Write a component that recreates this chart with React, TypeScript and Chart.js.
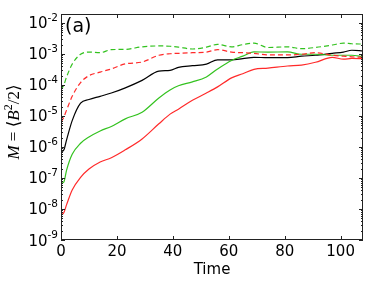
import React, { useEffect, useRef } from 'react';
import { Chart, registerables } from 'chart.js';

Chart.register(...registerables);

const times = [0, 1, 2, 4, 7, 10, 14, 18, 23, 29, 35, 39, 42, 47, 52, 56, 61, 65, 69, 74, 81, 86, 91, 97, 101, 104, 108];

const blackSolid = [7.0e-7, 8.0e-7, 1.7e-6, 7.1e-6, 2.6e-5, 3.4e-5, 4.3e-5, 5.5e-5, 8.1e-5, 1.41e-4, 2.8e-4, 2.95e-4, 3.7e-4, 4.2e-4, 4.7e-4, 6.5e-4, 6.5e-4, 7.1e-4, 7.8e-4, 7.6e-4, 7.6e-4, 8.5e-4, 9.1e-4, 1.05e-3, 1.15e-3, 1.32e-3, 1.26e-3];
const greenSolid = [6.9e-8, 7.4e-8, 1.8e-7, 5.8e-7, 1.32e-6, 2.1e-6, 3.3e-6, 4.6e-6, 8.1e-6, 1.32e-5, 3.8e-5, 6.9e-5, 9.5e-5, 1.26e-4, 1.82e-4, 3.3e-4, 6.2e-4, 8.5e-4, 1.17e-3, 1.15e-3, 1.17e-3, 9.8e-4, 9.8e-4, 9.1e-4, 9.1e-4, 9.1e-4, 8.1e-4];
const redSolid = [6.5e-9, 7.6e-9, 1.38e-8, 4.1e-8, 1.05e-7, 1.95e-7, 3.3e-7, 4.5e-7, 8.1e-7, 1.82e-6, 5.6e-6, 1.15e-5, 1.66e-5, 3.2e-5, 5.5e-5, 8.7e-5, 1.7e-4, 2.3e-4, 3.2e-4, 3.5e-4, 4.1e-4, 4.4e-4, 5.4e-4, 7.8e-4, 6.8e-4, 7.2e-4, 7.1e-4];
const greenDashed = [6.9e-5, 1.0e-4, 1.82e-4, 4.7e-4, 9.8e-4, 1.15e-3, 1.1e-3, 1.38e-3, 1.41e-3, 1.7e-3, 1.82e-3, 1.78e-3, 1.66e-3, 1.45e-3, 1.66e-3, 2.04e-3, 1.7e-3, 2.0e-3, 2.24e-3, 1.62e-3, 1.7e-3, 1.48e-3, 1.62e-3, 1.95e-3, 2.24e-3, 2.14e-3, 2.09e-3];
const redDashed = [6.5e-6, 9.1e-6, 1.55e-5, 4.3e-5, 1.2e-4, 2.0e-4, 2.6e-4, 3.3e-4, 4.8e-4, 5.5e-4, 9.1e-4, 1.02e-3, 1.05e-3, 1.1e-3, 1.15e-3, 1.38e-3, 1.15e-3, 1.1e-3, 1.05e-3, 9.3e-4, 9.3e-4, 9.8e-4, 1.1e-3, 9.1e-4, 8.5e-4, 8.1e-4, 7.8e-4];

const xTicks = [0, 20, 40, 60, 80, 100];
const yExponents = [-9, -8, -7, -6, -5, -4, -3, -2];
const xMin = 0;
const xMax = 108;
const yMin = 1e-9;
const yMax = 1.95e-2;
const xLabel = 'Time';
const panelLabel = '(a)';

const RED = '#ff2a2a';
const GREEN = '#33c21f';
const BLACK = '#000000';

const axesPlugin = {
  id: 'mplAxes',
  afterDraw(chart: any) {
    const ctx = chart.ctx as CanvasRenderingContext2D;
    const { left, right, top, bottom } = chart.chartArea;
    const xs = chart.scales.x;
    const ys = chart.scales.y;
    ctx.save();
    ctx.strokeStyle = '#222';
    ctx.lineWidth = 1;
    ctx.strokeRect(Math.round(left) + 0.5, Math.round(top) + 0.5, Math.round(right - left) - 1, Math.round(bottom - top) - 1);

    ctx.beginPath();
    for (const v of xTicks) {
      const px = Math.round(xs.getPixelForValue(v)) + 0.5;
      ctx.moveTo(px, bottom);
      ctx.lineTo(px, bottom - 4);
      ctx.moveTo(px, top);
      ctx.lineTo(px, top + 4);
    }
    for (const e of yExponents) {
      const py = Math.round(ys.getPixelForValue(Math.pow(10, e))) + 0.5;
      ctx.moveTo(left, py);
      ctx.lineTo(left + 4, py);
      ctx.moveTo(right, py);
      ctx.lineTo(right - 4, py);
      for (let m = 2; m <= 9; m++) {
        const val = m * Math.pow(10, e);
        if (val > yMax) continue;
        const pm = Math.round(ys.getPixelForValue(val)) + 0.5;
        ctx.moveTo(left, pm);
        ctx.lineTo(left + 2, pm);
        ctx.moveTo(right, pm);
        ctx.lineTo(right - 2, pm);
      }
    }
    ctx.stroke();

    ctx.fillStyle = '#000';
    ctx.textBaseline = 'alphabetic';
    // x tick labels
    ctx.font = '15px "DejaVu Sans"';
    ctx.textAlign = 'center';
    for (const v of xTicks) {
      ctx.fillText(String(v), xs.getPixelForValue(v), bottom + 16);
    }
    // y tick labels
    for (const e of yExponents) {
      const py = ys.getPixelForValue(Math.pow(10, e));
      const ex = '-' + String(Math.abs(e));
      ctx.font = '10.5px "DejaVu Sans"';
      const ew = ctx.measureText(ex).width;
      ctx.textAlign = 'left';
      const exX = left - 3 - ew;
      ctx.fillText(ex, exX, py - 2);
      ctx.font = '15px "DejaVu Sans"';
      ctx.textAlign = 'right';
      ctx.fillText('10', exX, py + 5.5);
    }
    // x axis title
    ctx.textAlign = 'center';
    ctx.font = '15px "DejaVu Sans"';
    ctx.fillText(xLabel, (left + right) / 2, 274);
    // panel label
    ctx.textAlign = 'left';
    ctx.font = '19px "DejaVu Sans"';
    ctx.fillText(panelLabel, left + 4, top + 18);

    // y axis title
    const serif = '"Liberation Serif", "DejaVu Serif", serif';
    const pieces = [
      { t: 'M', f: `italic 17px ${serif}`, dy: 0 },
      { t: ' = ', f: `17px ${serif}`, dy: 0 },
      { t: '\u27E8', f: `17px "DejaVu Serif", serif`, dy: 0 },
      { t: 'B', f: `italic 17px ${serif}`, dy: 0 },
      { t: '2', f: `12px ${serif}`, dy: -7 },
      { t: '/2', f: `17px ${serif}`, dy: 0 },
      { t: '\u27E9', f: `17px "DejaVu Serif", serif`, dy: 0 },
    ];
    let total = 0;
    const widths: number[] = [];
    for (const p of pieces) {
      ctx.font = p.f;
      const w = ctx.measureText(p.t).width;
      widths.push(w);
      total += w;
    }
    ctx.translate(19, 122);
    ctx.rotate(-Math.PI / 2);
    let cx = -total / 2;
    pieces.forEach((p, i) => {
      ctx.font = p.f;
      ctx.fillText(p.t, cx, p.dy);
      cx += widths[i];
    });
    ctx.restore();
  },
};

function makeData(arr: number[]) {
  return times.map((t, i) => ({ x: t, y: arr[i] }));
}

export default function App() {
  const ref = useRef<HTMLCanvasElement | null>(null);
  useEffect(() => {
    if (!ref.current) return;
    const common = { pointRadius: 0, borderWidth: 1.2, cubicInterpolationMode: 'monotone' as const, fill: false };
    const chart = new Chart(ref.current, {
      type: 'line',
      data: {
        datasets: [
          { ...common, data: makeData(greenDashed), borderColor: GREEN, borderDash: [5, 3] },
          { ...common, data: makeData(redDashed), borderColor: RED, borderDash: [5, 3] },
          { ...common, data: makeData(redSolid), borderColor: RED },
          { ...common, data: makeData(greenSolid), borderColor: GREEN },
          { ...common, data: makeData(blackSolid), borderColor: BLACK },
        ],
      },
      options: {
        animation: false,
        responsive: false,
        devicePixelRatio: 1,
        layout: { padding: { left: 61, right: 19, top: 14, bottom: 46 } },
        plugins: { legend: { display: false }, tooltip: { enabled: false } },
        scales: {
          x: { type: 'linear', min: xMin, max: xMax, display: false },
          y: { type: 'logarithmic', min: yMin, max: yMax, display: false },
        },
      },
      plugins: [axesPlugin],
    });
    return () => chart.destroy();
  }, []);
  return (
    <div style={{ position: 'fixed', left: 0, top: 0, width: 382, height: 286, background: '#fff' }}>
      <canvas ref={ref} width={382} height={286} style={{ display: 'block' }} />
    </div>
  );
}
